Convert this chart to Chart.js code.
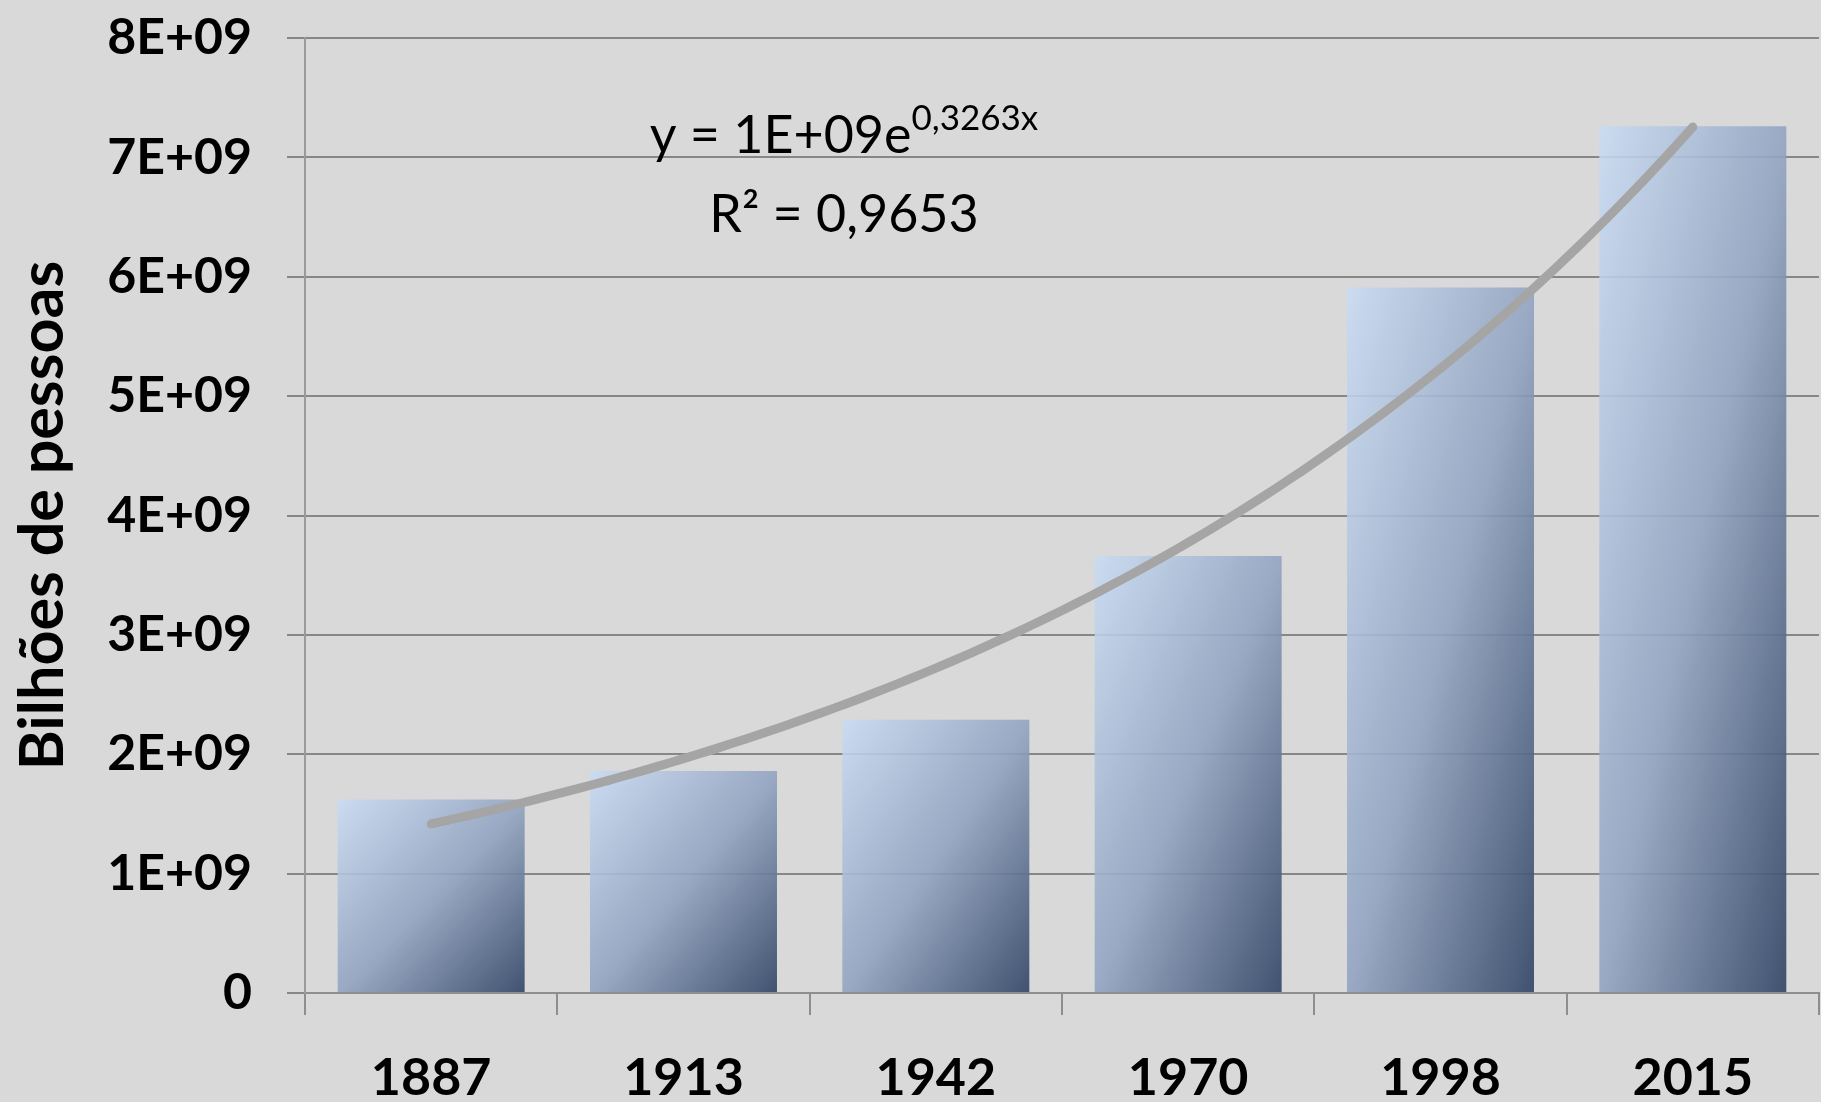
<!DOCTYPE html>
<html lang="pt">
<head>
<meta charset="utf-8">
<title>Bilhões de pessoas</title>
<script src="https://cdn.jsdelivr.net/npm/chart.js@4.4.1/dist/chart.umd.min.js"></script>
<style>
  html, body { margin: 0; padding: 0; background: #d9d9d9; overflow: hidden; }
  #wrap { width: 1821px; height: 1102px; }
  canvas { display: block; }
</style>
</head>
<body>
<div id="wrap"><canvas id="chart" width="1821" height="1102"></canvas></div>
<script>
// World population by year
const years = ['1887', '1913', '1942', '1970', '1998', '2015'];
const population = [1.62e9, 1.86e9, 2.29e9, 3.66e9, 5.91e9, 7.26e9];
const yTickLabels = ['0', '1E+09', '2E+09', '3E+09', '4E+09', '5E+09', '6E+09', '7E+09', '8E+09'];
const yAxisTitle = 'Bilhões de pessoas';

// Trendline caption
const trendEquation = 'y = 1E+09e';
const trendExponent = '0,3263x';
const trendR2 = 'R² = 0,9653';

const FONT = 'Lato, "Open Sans", sans-serif';
const BAR_PCT = 0.741;

// Exponential least-squares fit y = a·e^(b·x) with x = 1..n (spreadsheet-style trendline)
function expFit(values) {
  const n = values.length;
  const xs = values.map((_, i) => i + 1);
  const ls = values.map(v => Math.log(v));
  const mx = xs.reduce((s, v) => s + v, 0) / n;
  const ml = ls.reduce((s, v) => s + v, 0) / n;
  let sxy = 0, sxx = 0;
  for (let i = 0; i < n; i++) { sxy += (xs[i] - mx) * (ls[i] - ml); sxx += (xs[i] - mx) ** 2; }
  const b = sxy / sxx;
  const a = Math.exp(ml - b * mx);
  return { a, b };
}
const fit = expFit(population);
const trendPoints = [];
for (let k = 0; k <= 100; k++) {
  const x = 1 + (population.length - 1) * k / 100;
  trendPoints.push({ x, y: fit.a * Math.exp(fit.b * x) });
}

// Diagonal light-to-dark fill, scaled to each bar's box
function barFill(ctx) {
  const chart = ctx.chart;
  if (!chart.chartArea || ctx.dataIndex === undefined) return 'rgba(150,168,196,0.88)';
  const xs = chart.scales.x, ys = chart.scales.y;
  const w = xs.width / years.length * BAR_PCT;
  const x0 = xs.getPixelForValue(ctx.dataIndex) - w / 2;
  const y0 = ys.getPixelForValue(population[ctx.dataIndex]);
  const h = ys.getPixelForValue(0) - y0;
  const t = 2 * w * h / (h * h + w * w);
  const g = chart.ctx.createLinearGradient(x0, y0, x0 + t * h, y0 + t * w);
  g.addColorStop(0, 'rgba(200,219,243,0.88)');
  g.addColorStop(0.5, 'rgba(146,164,193,0.90)');
  g.addColorStop(1, 'rgba(52,71,103,0.92)');
  return g;
}

// Equation and R² caption for the trendline
const trendLabel = {
  id: 'trendLabel',
  afterDatasetsDraw(chart) {
    const { ctx, chartArea } = chart;
    const cx = chartArea.left + chartArea.width * 0.356;
    const base1 = chartArea.top + 115;
    const base2 = chartArea.top + 194;
    ctx.save();
    ctx.fillStyle = '#000';
    ctx.textBaseline = 'alphabetic';
    ctx.font = '52px ' + FONT;
    const wMain = ctx.measureText(trendEquation).width;
    ctx.font = '35px ' + FONT;
    const wExp = ctx.measureText(trendExponent).width;
    const start = cx - (wMain + wExp) / 2;
    ctx.font = '52px ' + FONT;
    ctx.textAlign = 'left';
    ctx.fillText(trendEquation, start, base1);
    ctx.font = '35px ' + FONT;
    ctx.fillText(trendExponent, start + wMain, base1 - 23);
    ctx.font = '52px ' + FONT;
    ctx.textAlign = 'center';
    ctx.fillText(trendR2, cx, base2);
    ctx.restore();
  }
};

function draw() {
  new Chart(document.getElementById('chart'), {
    type: 'bar',
    data: {
      labels: years,
      datasets: [
        {
          type: 'line',
          data: trendPoints,
          xAxisID: 'xt',
          yAxisID: 'y',
          borderColor: '#a5a5a5',
          borderWidth: 9,
          borderCapStyle: 'round',
          pointRadius: 0,
          tension: 0,
          order: 1
        },
        {
          type: 'bar',
          data: population,
          xAxisID: 'x',
          yAxisID: 'y',
          backgroundColor: barFill,
          borderWidth: 0,
          grouped: false,
          categoryPercentage: 1,
          barPercentage: BAR_PCT,
          order: 2
        }
      ]
    },
    options: {
      responsive: false,
      animation: false,
      devicePixelRatio: 1,
      layout: { padding: { top: 38, right: 2, left: 0, bottom: 0 } },
      plugins: { legend: { display: false }, tooltip: { enabled: false } },
      scales: {
        x: {
          type: 'category',
          offset: true,
          grid: {
            display: true,
            offset: true,
            drawOnChartArea: false,
            drawTicks: true,
            tickLength: 22,
            color: '#8e8e8e',
            lineWidth: 2
          },
          border: { display: true, color: '#8e8e8e', width: 2 },
          ticks: {
            padding: 32,
            color: '#000',
            font: { family: FONT, size: 52, weight: 'bold' },
            maxRotation: 0,
            autoSkip: false
          },
          afterFit(s) { s.height = 109; s.paddingLeft = 0; s.paddingRight = 0; }
        },
        xt: {
          type: 'linear',
          display: false,
          offset: false,
          grid: { offset: false },
          min: 0.5,
          max: years.length + 0.5
        },
        y: {
          type: 'linear',
          min: 0,
          max: 8e9,
          grid: {
            color: '#878787',
            lineWidth: 2,
            drawTicks: true,
            tickLength: 18
          },
          border: { display: true, color: '#9a9a9a', width: 2 },
          ticks: {
            stepSize: 1e9,
            padding: 35,
            color: '#000',
            font: { family: FONT, size: 50, weight: 'bold' },
            callback: (v, i) => yTickLabels[i]
          },
          title: {
            display: true,
            text: yAxisTitle,
            color: '#000',
            font: { family: FONT, size: 61, weight: 'bold', lineHeight: 1.2 },
            padding: { top: 7, bottom: 0 }
          },
          afterFit(s) { s.width = 305; s.paddingTop = 0; s.paddingBottom = 0; }
        }
      }
    },
    plugins: [trendLabel]
  });
}

const fontLoads = ['bold 52px Lato', '52px Lato', '35px Lato'].map(f => document.fonts.load(f).catch(() => null));
Promise.all(fontLoads).then(draw, draw);
</script>
</body>
</html>
